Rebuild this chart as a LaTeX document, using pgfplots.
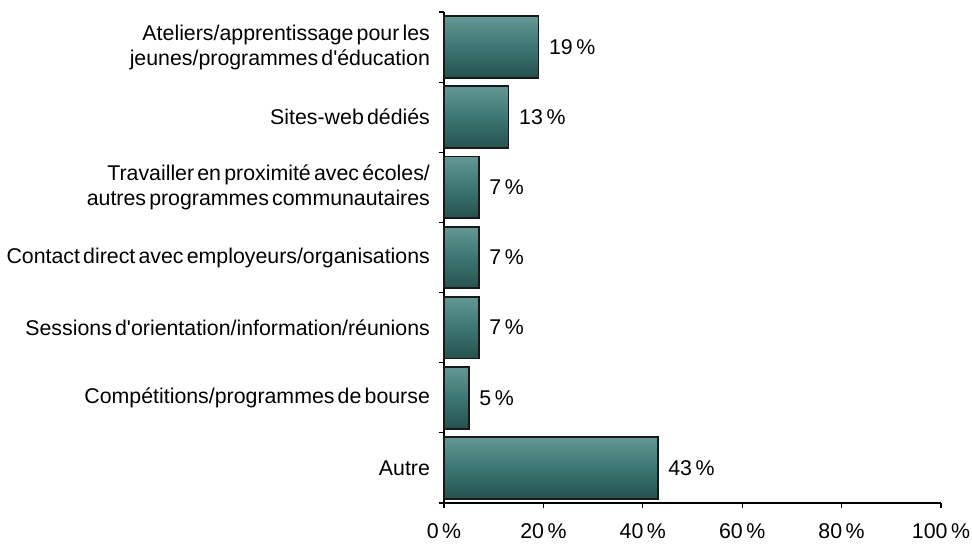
\documentclass[border=0pt]{standalone}
\usepackage{pgfplots}
\pgfplotsset{compat=1.18}
\usepackage{fontspec}
\setmainfont{Liberation Sans}
\definecolor{barmid}{RGB}{60,118,114}
\definecolor{bartop}{RGB}{100,152,148}
\definecolor{barbot}{RGB}{38,82,78}
\newcommand{\lblfont}{\fontsize{16pt}{18.75pt}\selectfont\spaceskip=0.15em plus 0.05em\relax}
\pgfplotsset{bev/.style={draw=black!90, line width=1.3pt, top color=bartop, bottom color=barbot, middle color=barmid}}
\begin{document}
\begin{tikzpicture}
\path[use as bounding box] (-333pt,-32.25pt) rectangle (396pt,377.25pt);
\begin{axis}[
  at={(0,0)}, anchor=south west,
  scale only axis, width=372.75pt, height=368.25pt,
  xbar, bar width=0.88, bar shift=0pt,
  xmin=0, xmax=100, ymin=-0.5, ymax=6.5,
  axis lines=left, axis line style={-, line width=0.9pt},
  xtick={0,20,...,100},
  xticklabel={\pgfmathprintnumber{\tick}\,\%},
  /pgf/number format/assume math mode=true,
  ytick={0,...,6},
  yticklabels={Autre,Compétitions/programmes de bourse,Sessions d\textquotesingle orientation/information/réunions,Contact direct avec employeurs/organisations,{Travailler en proximité avec écoles/\\autres programmes communautaires},Sites-web dédiés,{Ateliers/apprentissage pour les\\jeunes/programmes d\textquotesingle éducation}},
  yticklabel style={align=right, font=\lblfont, xshift=-3pt},
  xticklabel style={font=\lblfont, yshift=-8pt},
  minor ytick={-0.5,0.5,...,6.5},
  major y tick style={draw=none},
  minor y tick style={black, line width=0.9pt},
  x tick style={black, line width=0.9pt},
  tick align=outside,
  major tick length=4pt, minor tick length=4pt,
  nodes near coords={\pgfmathprintnumber{\pgfplotspointmeta}\,\%},
  nodes near coords style={font=\lblfont, anchor=west, xshift=4pt},
  clip=false,
]
\addplot[bev] coordinates {(43,0)};
\addplot[bev] coordinates {(5,1)};
\addplot[bev] coordinates {(7,2)};
\addplot[bev] coordinates {(7,3)};
\addplot[bev] coordinates {(7,4)};
\addplot[bev] coordinates {(13,5)};
\addplot[bev] coordinates {(19,6)};
\end{axis}
\end{tikzpicture}
\end{document}
